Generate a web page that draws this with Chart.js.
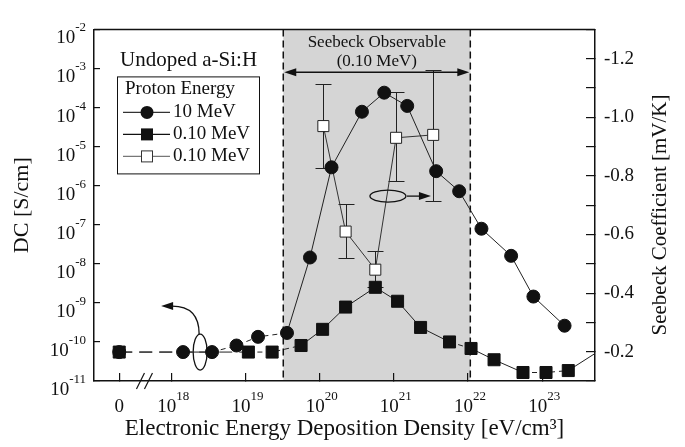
<!DOCTYPE html>
<html>
<head>
<meta charset="utf-8">
<script src="https://cdn.jsdelivr.net/npm/chart.js@4.4.1/dist/chart.umd.min.js"></script>
<style>
  html, body { margin: 0; padding: 0; background: #fff; }
  #wrap { width: 685px; height: 447px; }
</style>
</head>
<body>
<div id="wrap"><canvas id="chart" width="685" height="447"></canvas></div>
<script>
// deposition density as log10(eV/cm3); null = unirradiated sample, shown at "0"
const dens10MeV = [null, 18.16, 18.55, 18.88, 19.17, 19.56, 19.87, 20.16, 20.57, 20.87, 21.18, 21.57, 21.88, 22.18, 22.58, 22.88, 23.30];
const dc10MeV = [5.5e-11, 5.5e-11, 5.5e-11, 8.1e-11, 1.35e-10, 1.7e-10, 1.45e-8, 2.95e-6, 7.8e-5, 2.4e-4, 1.1e-4, 2.35e-6, 7.2e-7, 7.9e-8, 1.6e-8, 1.45e-9, 2.6e-10];

const dens010MeV = [null, 19.04, 19.36, 19.75, 20.04, 20.35, 20.75, 21.05, 21.36, 21.75, 22.04, 22.35, 22.74, 23.05, 23.35, 23.8];
const dc010MeV = [5.5e-11, 5.5e-11, 5.5e-11, 8.1e-11, 2.1e-10, 7.8e-10, 2.5e-9, 1.1e-9, 2.35e-10, 1.0e-10, 6.8e-11, 3.5e-11, 1.65e-11, 1.65e-11, 1.85e-11, 6.5e-11];

// Seebeck coefficient (mV/K) with error bar ends
const densSeebeck = [20.05, 20.35, 20.75, 21.03, 21.53];
const seebeck = [-0.97, -0.61, -0.48, -0.93, -0.94];
const seebeckHi = [-1.115, -0.705, -0.544, -1.085, -1.16];
const seebeckLo = [-0.826, -0.521, -0.42, -0.784, -0.715];

const xTickExps = [18, 19, 20, 21, 22, 23];
const dcTickExps = [-11, -10, -9, -8, -7, -6, -5, -4, -3, -2];
const observableRange = [19.51, 22.03];

const ZERO_AT = 17.3;          // position of the "0" column, left of the axis break
const X_MIN = 16.96, X_MAX = 23.71;
const FONT = "'Liberation Serif', 'Times New Roman', serif";
const INK = '#111';

const toXY = (xs, ys) => xs.map((x, i) => ({ x: x === null ? ZERO_AT : x, y: ys[i] }));

// which line segments are dashed (index of the segment's first point)
const dashed = (longIdx, shortIdx) => c =>
  longIdx.includes(c.p0DataIndex) ? [13, 7] : (shortIdx.includes(c.p0DataIndex) ? [5, 4] : undefined);

function arrowHead(ctx, x, y, dir) {
  // dir: 1 = pointing right, -1 = pointing left
  ctx.beginPath();
  ctx.moveTo(x, y);
  ctx.lineTo(x - dir * 12, y - 4);
  ctx.lineTo(x - dir * 12, y + 4);
  ctx.closePath();
  ctx.fill();
}

// "10" with a raised exponent; align = 'right' or 'center' around x
function drawPow10(ctx, exp, x, baseY, align) {
  const base = '10', sup = String(exp);
  ctx.font = '19px ' + FONT;
  const wb = ctx.measureText(base).width;
  ctx.font = '13px ' + FONT;
  const ws = ctx.measureText(sup).width;
  const x0 = align === 'right' ? x - wb - ws : x - (wb + ws) / 2;
  ctx.textAlign = 'left';
  ctx.textBaseline = 'alphabetic';
  ctx.font = '19px ' + FONT;
  ctx.fillText(base, x0, baseY);
  ctx.font = '13px ' + FONT;
  ctx.fillText(sup, x0 + wb, baseY - 12);
}

const observable = {
  id: 'observable',
  beforeDraw(chart) {
    const { ctx, chartArea: a, scales: { x } } = chart;
    const x0 = x.getPixelForValue(observableRange[0]);
    const x1 = x.getPixelForValue(observableRange[1]);
    ctx.save();
    ctx.fillStyle = '#d5d5d5';
    ctx.fillRect(x0, a.top, x1 - x0, a.bottom - a.top);
    ctx.strokeStyle = INK;
    ctx.lineWidth = 1.5;
    ctx.setLineDash([7, 4]);
    [x0, x1].forEach(px => {
      ctx.beginPath();
      ctx.moveTo(px, a.top);
      ctx.lineTo(px, a.bottom);
      ctx.stroke();
    });
    ctx.restore();
  }
};

const errorBars = {
  id: 'errorBars',
  beforeDatasetsDraw(chart) {
    const { ctx, scales: { x, y2 } } = chart;
    ctx.save();
    ctx.strokeStyle = '#222';
    ctx.lineWidth = 1;
    densSeebeck.forEach((d, i) => {
      const px = Math.round(x.getPixelForValue(d)) + 0.5;
      const top = Math.round(y2.getPixelForValue(seebeckHi[i])) + 0.5;
      const bot = Math.round(y2.getPixelForValue(seebeckLo[i])) + 0.5;
      ctx.beginPath();
      ctx.moveTo(px, top); ctx.lineTo(px, bot);
      ctx.moveTo(px - 8, top); ctx.lineTo(px + 8, top);
      ctx.moveTo(px - 8, bot); ctx.lineTo(px + 8, bot);
      ctx.stroke();
    });
    ctx.restore();
  }
};

// power-of-ten tick labels for the log axes
const powerLabels = {
  id: 'powerLabels',
  afterDraw(chart) {
    const { ctx, chartArea: a, scales: { x, y } } = chart;
    ctx.save();
    ctx.fillStyle = INK;
    dcTickExps.forEach(e => {
      drawPow10(ctx, e, a.left - 8, y.getPixelForValue(Math.pow(10, e)) + 14, 'right');
    });
    xTickExps.forEach(e => {
      drawPow10(ctx, e, x.getPixelForValue(e) + 2, a.bottom + 31, 'center');
    });
    ctx.font = '19px ' + FONT;
    ctx.textAlign = 'center';
    ctx.fillText('0', x.getPixelForValue(ZERO_AT), a.bottom + 31);
    ctx.restore();
  }
};

const decorations = {
  id: 'decorations',
  afterDraw(chart) {
    const { ctx, chartArea: a, scales: { x, y, y2 } } = chart;
    ctx.save();
    ctx.strokeStyle = INK;
    ctx.fillStyle = INK;

    // top edge of the frame
    ctx.lineWidth = 1.5;
    ctx.beginPath();
    ctx.moveTo(a.left, a.top);
    ctx.lineTo(a.right, a.top);
    ctx.stroke();

    // axis break marks
    const bx = x.getPixelForValue(17.64);
    ctx.lineWidth = 1.2;
    [-4, 4].forEach(o => {
      ctx.beginPath();
      ctx.moveTo(bx + o - 4, a.bottom + 8);
      ctx.lineTo(bx + o + 4, a.bottom - 8);
      ctx.stroke();
    });

    // "Seebeck Observable" span arrow
    const ox0 = x.getPixelForValue(observableRange[0]);
    const ox1 = x.getPixelForValue(observableRange[1]);
    const oy = y.getPixelForValue(8e-4);
    ctx.lineWidth = 1.5;
    ctx.beginPath();
    ctx.moveTo(ox0 + 8, oy);
    ctx.lineTo(ox1 - 8, oy);
    ctx.stroke();
    arrowHead(ctx, ox0 + 1, oy, -1);
    arrowHead(ctx, ox1 - 1, oy, 1);
    ctx.font = '17px ' + FONT;
    ctx.textAlign = 'center';
    ctx.textBaseline = 'middle';
    ctx.fillText('Seebeck Observable', (ox0 + ox1) / 2, oy - 30);
    ctx.fillText('(0.10 MeV)', (ox0 + ox1) / 2, oy - 11);

    // ellipse marking the DC curves, arrow to the left axis
    ctx.lineWidth = 1.3;
    const e1x = x.getPixelForValue(18.39), e1y = y.getPixelForValue(5.5e-11);
    ctx.beginPath();
    ctx.ellipse(e1x, e1y, 7, 18, 0, 0, Math.PI * 2);
    ctx.stroke();
    ctx.beginPath();
    ctx.moveTo(e1x - 1, e1y - 18);
    ctx.quadraticCurveTo(e1x - 1, e1y - 46, e1x - 28, e1y - 46);
    ctx.stroke();
    arrowHead(ctx, e1x - 39, e1y - 46, -1);

    // ellipse marking the Seebeck curve, arrow to the right axis
    const e2x = x.getPixelForValue(20.92), e2y = y2.getPixelForValue(-0.731);
    ctx.beginPath();
    ctx.ellipse(e2x, e2y, 18, 6, 0, 0, Math.PI * 2);
    ctx.stroke();
    ctx.beginPath();
    ctx.moveTo(e2x + 19, e2y);
    ctx.lineTo(e2x + 33, e2y);
    ctx.stroke();
    arrowHead(ctx, e2x + 43, e2y, 1);

    // sample label
    ctx.textAlign = 'left';
    ctx.font = '21px ' + FONT;
    ctx.fillText('Undoped a-Si:H', a.left + 26, a.top + 31);

    // legend
    const lx = a.left + 23, ly = a.top + 47;
    ctx.lineWidth = 1;
    ctx.strokeRect(lx + 0.5, ly + 0.5, 142, 97);
    ctx.font = '19px ' + FONT;
    ctx.fillText('Proton Energy', lx + 8, ly + 13);
    const rows = [
      { label: '10 MeV', line: '#333', draw: (cx, cy) => { ctx.beginPath(); ctx.arc(cx, cy, 6.5, 0, Math.PI * 2); ctx.fill(); } },
      { label: '0.10 MeV', line: '#111', draw: (cx, cy) => ctx.fillRect(cx - 6, cy - 6, 12, 12) },
      { label: '0.10 MeV', line: '#777', draw: (cx, cy) => { ctx.fillStyle = '#fff'; ctx.fillRect(cx - 5.5, cy - 5.5, 11, 11); ctx.strokeStyle = '#333'; ctx.strokeRect(cx - 5.5, cy - 5.5, 11, 11); } }
    ];
    rows.forEach((r, i) => {
      const ry = ly + 36 + i * 22;
      ctx.strokeStyle = r.line;
      ctx.fillStyle = INK;
      ctx.lineWidth = 1.2;
      ctx.beginPath();
      ctx.moveTo(lx + 6, ry);
      ctx.lineTo(lx + 53, ry);
      ctx.stroke();
      ctx.lineWidth = 1;
      r.draw(lx + 30, ry);
      ctx.fillStyle = INK;
      ctx.fillText(r.label, lx + 56, ry);
    });

    // right axis title, reading bottom to top
    ctx.font = '21px ' + FONT;
    ctx.textAlign = 'center';
    ctx.translate(660, 215);
    ctx.rotate(-Math.PI / 2);
    ctx.fillText('Seebeck Coefficient [mV/K]', 0, 0);
    ctx.restore();
  }
};

const tickFont = { family: FONT, size: 19 };
const inwardGrid = len => ({ drawOnChartArea: false, tickLength: -len, color: INK, lineWidth: 1.2 });
const axisBorder = { color: INK, width: 1.5 };

new Chart(document.getElementById('chart'), {
  type: 'line',
  data: {
    datasets: [
      {
        label: '10 MeV',
        data: toXY(dens10MeV, dc10MeV),
        yAxisID: 'y',
        borderColor: '#222',
        borderWidth: 1,
        pointStyle: 'circle',
        pointRadius: 6.5,
        pointBackgroundColor: INK,
        pointBorderColor: INK,
        segment: { borderDash: dashed([0], [2, 3, 4]) }
      },
      {
        label: '0.10 MeV (Seebeck)',
        data: toXY(densSeebeck, seebeck),
        yAxisID: 'y2',
        borderColor: '#333',
        borderWidth: 1,
        pointStyle: 'rect',
        pointRadius: 7.8,
        pointBackgroundColor: '#fff',
        pointBorderColor: '#222',
        pointBorderWidth: 1
      },
      {
        label: '0.10 MeV',
        data: toXY(dens010MeV, dc010MeV),
        yAxisID: 'y',
        borderColor: '#222',
        borderWidth: 1,
        pointStyle: 'rect',
        pointRadius: c => (c.raw && c.raw.x > X_MAX ? 0 : 8.5),
        pointBackgroundColor: INK,
        pointBorderColor: INK,
        segment: { borderDash: dashed([0], [1, 2, 9, 12, 13]) }
      }
    ]
  },
  options: {
    responsive: false,
    animation: false,
    events: [],
    layout: { padding: { top: 14, left: 0, right: 0, bottom: 0 } },
    plugins: { legend: { display: false }, tooltip: { enabled: false } },
    scales: {
      x: {
        type: 'linear',
        min: X_MIN,
        max: X_MAX,
        afterBuildTicks: s => { s.ticks = [ZERO_AT, ...xTickExps].map(v => ({ value: v })); },
        afterFit: s => { s.height = 66; },
        ticks: { display: false, autoSkip: false },
        grid: inwardGrid(8),
        border: axisBorder,
        title: {
          display: true,
          text: 'Electronic Energy Deposition Density [eV/cm³]',
          color: INK,
          font: { family: FONT, size: 23 },
          padding: { top: 0, bottom: 4 }
        }
      },
      y: {
        type: 'logarithmic',
        position: 'left',
        min: 1e-11,
        max: 1e-2,
        afterBuildTicks: s => { s.ticks = dcTickExps.map(e => ({ value: Math.pow(10, e) })); },
        afterFit: s => { s.width = 94; },
        ticks: { display: false, autoSkip: false },
        grid: inwardGrid(6),
        border: axisBorder,
        title: {
          display: true,
          text: 'DC [S/cm]',
          color: INK,
          font: { family: FONT, size: 22 },
          padding: { top: 9, bottom: 0 }
        }
      },
      y2: {
        type: 'linear',
        position: 'right',
        min: -1.3,
        max: -0.1,
        reverse: true,
        afterFit: s => { s.width = 90; },
        ticks: {
          stepSize: 0.1,
          autoSkip: false,
          padding: 18,
          color: INK,
          font: tickFont,
          callback: v => (Math.round(v * 10) % 2 === 0 ? v.toFixed(1) : '')
        },
        grid: inwardGrid(9),
        border: axisBorder
      }
    }
  },
  plugins: [observable, errorBars, powerLabels, decorations]
});
</script>
</body>
</html>
